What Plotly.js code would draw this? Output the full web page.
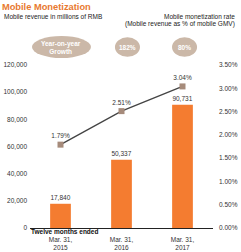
<!DOCTYPE html>
<html>
<head>
<meta charset="utf-8">
<script src="https://cdn.plot.ly/plotly-3.0.1.min.js"></script>
<style>html,body{margin:0;padding:0;background:#fff;}#chart{width:241px;height:252px;}</style>
</head>
<body>
<div id="chart"></div>
<script>
var categories = ["Mar. 31,<br>2015", "Mar. 31,<br>2016", "Mar. 31,<br>2017"];
var revenue = [17840, 50337, 90731];
var revenueLabels = ["17,840", "50,337", "90,731"];
var rate = [1.79, 2.51, 3.04];
var rateLabels = ["1.79%", "2.51%", "3.04%"];
var growthLabels = ["182%", "80%"];

var FONT = "Liberation Sans, Arial, sans-serif";
var TXT = "#333333";

var traces = [
  {
    type: "bar", x: categories, y: revenue, text: revenueLabels,
    textposition: "outside", cliponaxis: false,
    textfont: {family: FONT, size: 6.5, color: TXT},
    marker: {color: "#f47c30"}, width: 0.34, hoverinfo: "none"
  },
  {
    type: "scatter", mode: "lines+markers+text", x: categories, y: rate, yaxis: "y2",
    text: rateLabels, textposition: "top center", cliponaxis: false,
    textfont: {family: FONT, size: 6.5, color: TXT},
    line: {color: "#444444", width: 1.3},
    marker: {symbol: "square", size: 6, color: "#a68b7b"}, hoverinfo: "none"
  }
];

var shapes = [
  {type: "circle", xref: "paper", yref: "paper", x0: 0.011, x1: 0.333, y0: 1.043, y1: 1.178, fillcolor: "#cbb8a8", line: {width: 0}},
  {type: "circle", xref: "paper", yref: "paper", x0: 0.464, x1: 0.601, y0: 1.05, y1: 1.17, fillcolor: "#cbb8a8", line: {width: 0}},
  {type: "circle", xref: "paper", yref: "paper", x0: 0.776, x1: 0.913, y0: 1.05, y1: 1.17, fillcolor: "#cbb8a8", line: {width: 0}}
];

var annotations = [
  {xref: "paper", yref: "paper", x: -0.153, y: 1.30, xanchor: "left", yanchor: "middle", showarrow: false,
   text: "Mobile revenue in millions of RMB", font: {family: FONT, size: 6.5, color: "#222"}},
  {xref: "paper", yref: "paper", x: 1.131, y: 1.30, xanchor: "right", yanchor: "middle", showarrow: false,
   text: "Mobile monetization rate", font: {family: FONT, size: 6.5, color: "#222"}},
  {xref: "paper", yref: "paper", x: 1.131, y: 1.252, xanchor: "right", yanchor: "middle", showarrow: false,
   text: "(Mobile revenue as % of mobile GMV)", font: {family: FONT, size: 6.5, color: "#222"}},
  {xref: "paper", yref: "paper", x: 0.172, y: 1.11, xanchor: "center", yanchor: "middle", showarrow: false,
   text: "<b>Year-on-year<br>Growth</b>", font: {family: FONT, size: 6.5, color: "#fff"}},
  {xref: "paper", yref: "paper", x: 0.533, y: 1.11, xanchor: "center", yanchor: "middle", showarrow: false,
   text: "<b>" + growthLabels[0] + "</b>", font: {family: FONT, size: 6.5, color: "#fff"}},
  {xref: "paper", yref: "paper", x: 0.845, y: 1.11, xanchor: "center", yanchor: "middle", showarrow: false,
   text: "<b>" + growthLabels[1] + "</b>", font: {family: FONT, size: 6.5, color: "#fff"}},
  {xref: "paper", yref: "paper", x: -0.005, y: -0.022, xanchor: "left", yanchor: "middle", showarrow: false,
   text: "<b>Twelve months ended</b>", font: {family: FONT, size: 6.5, color: "#111"}}
];

var layout = {
  width: 241, height: 252,
  margin: {l: 30, r: 28, t: 65, b: 24, pad: 0},
  paper_bgcolor: "#fff", plot_bgcolor: "#fff",
  showlegend: false,
  font: {family: FONT, size: 6.5, color: TXT},
  title: {text: "<b>Mobile Monetization</b>", x: 0.008, xref: "container", xanchor: "left",
          y: 0.972, yref: "container", yanchor: "middle",
          font: {family: FONT, size: 9.3, color: "#e8792f"}},
  xaxis: {type: "category", showgrid: false, showline: true, linecolor: "#222", linewidth: 1,
          ticks: "", tickfont: {family: FONT, size: 6.5, color: TXT}, ticklabelstandoff: 5, fixedrange: true},
  yaxis: {range: [0, 120000], dtick: 20000, tickformat: ",d", showgrid: false, zeroline: false,
          showline: false, ticks: "", tickfont: {family: FONT, size: 6.5, color: TXT}, ticklabelstandoff: 2},
  yaxis2: {overlaying: "y", side: "right", range: [0, 3.5], dtick: 0.5, tickformat: ".2f", ticksuffix: "%",
           showgrid: false, zeroline: false, showline: false, ticks: "",
           tickfont: {family: FONT, size: 6.5, color: TXT}, ticklabelstandoff: 5},
  shapes: shapes,
  annotations: annotations
};

Plotly.newPlot("chart", traces, layout, {displayModeBar: false, staticPlot: true});
</script>
</body>
</html>
